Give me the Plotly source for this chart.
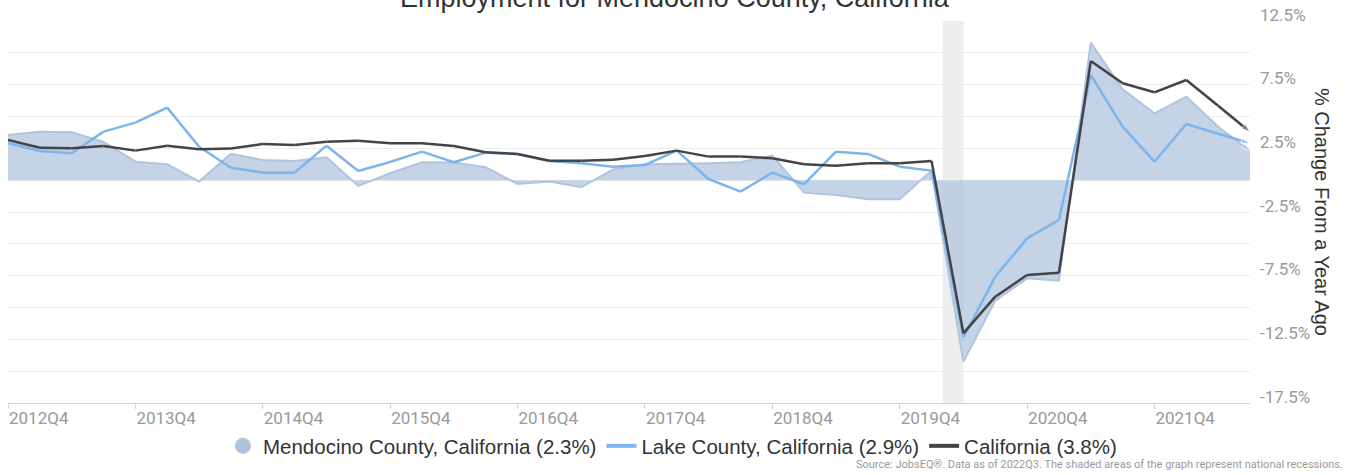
import plotly.graph_objects as go

quarters = [
    "2012Q4", "2013Q1", "2013Q2", "2013Q3", "2013Q4", "2014Q1", "2014Q2", "2014Q3",
    "2014Q4", "2015Q1", "2015Q2", "2015Q3", "2015Q4", "2016Q1", "2016Q2", "2016Q3",
    "2016Q4", "2017Q1", "2017Q2", "2017Q3", "2017Q4", "2018Q1", "2018Q2", "2018Q3",
    "2018Q4", "2019Q1", "2019Q2", "2019Q3", "2019Q4", "2020Q1", "2020Q2", "2020Q3",
    "2020Q4", "2021Q1", "2021Q2", "2021Q3", "2021Q4", "2022Q1", "2022Q2", "2022Q3",
]

mendocino = [
    3.55, 3.8, 3.76, 3.0, 1.45, 1.25, -0.1, 2.06, 1.59, 1.51,
    1.8, -0.45, 0.54, 1.4, 1.38, 1.01, -0.3, -0.1, -0.56, 0.85,
    1.25, 1.27, 1.33, 1.4, 1.93, -0.98, -1.16, -1.5, -1.5, 0.75,
    -14.26, -9.46, -7.71, -7.89, 10.8, 7.14, 5.25, 6.56, 4.2, 2.3,
]

lake = [
    2.9, 2.29, 2.11, 3.81, 4.52, 5.7, 2.63, 0.98, 0.59, 0.59,
    2.71, 0.72, 1.43, 2.24, 1.41, 2.16, 2.06, 1.51, 1.33, 1.06,
    1.19, 2.32, 0.09, -0.9, 0.59, -0.32, 2.24, 2.06, 1.06, 0.75,
    -12.34, -7.58, -4.57, -3.13, 8.26, 4.2, 1.45, 4.41, 3.65, 2.9,
]

california = [
    3.16, 2.55, 2.5, 2.69, 2.32, 2.71, 2.43, 2.48, 2.84, 2.76,
    3.02, 3.1, 2.9, 2.9, 2.69, 2.19, 2.06, 1.53, 1.53, 1.61,
    1.9, 2.32, 1.85, 1.85, 1.72, 1.25, 1.14, 1.33, 1.33, 1.51,
    -12.03, -9.15, -7.45, -7.27, 9.36, 7.61, 6.9, 7.87, 5.84, 3.8,
]

series_names = [
    "Mendocino County, California (2.3%)",
    "Lake County, California (2.9%)",
    "California (3.8%)",
]

x_tick_labels = ["2012Q4", "2013Q4", "2014Q4", "2015Q4", "2016Q4",
                 "2017Q4", "2018Q4", "2019Q4", "2020Q4", "2021Q4"]

y_grid_vals = [12.5, 10, 7.5, 5, 2.5, 0, -2.5, -5, -7.5, -10, -12.5, -15, -17.5]
y_label_vals = [12.5, 7.5, 2.5, -2.5, -7.5, -12.5, -17.5]
y_label_text = ["12.5%", "7.5%", "2.5%", "-2.5%", "-7.5%", "-12.5%", "-17.5%"]

recession_start = 29.35
recession_end = 30.0

C_MEN = "#b0c4de"
C_LAKE = "#7cb5ec"
C_CA = "#434348"

n = len(quarters)
end_sizes = [0] * (n - 1) + [9]

fig = go.Figure()

fig.add_trace(go.Scatter(
    x=quarters, y=mendocino, mode="lines+markers", fill="tozeroy",
    fillcolor="rgba(176,196,222,0.75)",
    line=dict(color=C_MEN, width=2),
    marker=dict(symbol="arrow", angleref="previous", size=end_sizes, color=C_MEN),
    showlegend=False, name=series_names[0], hoverinfo="skip",
))
fig.add_trace(go.Scatter(
    x=quarters, y=lake, mode="lines+markers",
    line=dict(color=C_LAKE, width=2.5),
    marker=dict(symbol="arrow", angleref="previous", size=end_sizes, color=C_LAKE),
    showlegend=False, name=series_names[1],
))
fig.add_trace(go.Scatter(
    x=quarters, y=california, mode="lines+markers",
    line=dict(color=C_CA, width=2.5),
    marker=dict(symbol="arrow", angleref="previous", size=end_sizes, color=C_CA),
    showlegend=False, name=series_names[2],
))

# legend entries
fig.add_trace(go.Scatter(x=[None], y=[None], mode="markers",
                         marker=dict(symbol="circle", size=18, color=C_MEN),
                         name=series_names[0]))
fig.add_trace(go.Scatter(x=[None], y=[None], mode="lines",
                         line=dict(color=C_LAKE, width=4), name=series_names[1]))
fig.add_trace(go.Scatter(x=[None], y=[None], mode="lines",
                         line=dict(color=C_CA, width=4), name=series_names[2]))

fig.add_shape(type="rect", xref="x", yref="paper",
              x0=recession_start, x1=recession_end, y0=0, y1=1,
              fillcolor="#eeeeee", line=dict(width=0), layer="below")

annotations = [
    dict(text="Employment for Mendocino County, California",
         xref="paper", yref="paper", x=0.537, y=1.059,
         xanchor="center", yanchor="middle", showarrow=False,
         font=dict(family="Liberation Sans, Arial", size=27, color="#333333")),
    dict(text="% Change From a Year Ago",
         xref="paper", yref="paper", x=1.058, y=0.5,
         xanchor="center", yanchor="middle", textangle=90, showarrow=False,
         font=dict(family="Liberation Sans, Arial", size=20, color="#333333")),
    dict(text="Source: JobsEQ®. Data as of 2022Q3. The shaded areas of the graph represent national recessions.",
         xref="paper", yref="paper", x=1.0765, y=-0.162,
         xanchor="right", yanchor="middle", showarrow=False,
         font=dict(family="Roboto", size=11, color="#999999")),
]
for v, t in zip(y_label_vals, y_label_text):
    annotations.append(dict(
        text=t, xref="paper", yref="y", x=1.0064, y=v,
        xanchor="left", yanchor="middle", yshift=6.5, showarrow=False,
        font=dict(family="Roboto", size=17, color="#999999"),
    ))

fig.update_layout(
    width=1355, height=475,
    margin=dict(l=8, r=105, t=21, b=72, autoexpand=False),
    paper_bgcolor="white", plot_bgcolor="white",
    font=dict(family="Roboto, Arial, sans-serif", color="#333333"),
    xaxis=dict(
        type="category", range=[0, n - 1], automargin=False,
        tickvals=x_tick_labels, ticktext=x_tick_labels,
        showgrid=False, zeroline=False,
        showline=True, linecolor="#ccd6eb", linewidth=1,
        ticks="outside", ticklen=5, tickcolor="#ccd6eb",
        ticklabelposition="outside right",
        tickfont=dict(family="Roboto", size=17, color="#999999"),
    ),
    yaxis=dict(
        side="right", range=[-17.5, 12.5], automargin=False,
        tickvals=y_grid_vals, showticklabels=False,
        showgrid=True, gridcolor="#ececec", gridwidth=1,
        zeroline=False, showline=False, ticks="",
    ),
    legend=dict(
        orientation="h", x=0.535, xanchor="center", xref="paper",
        y=-0.1126, yanchor="middle",
        font=dict(family="Liberation Sans, Arial", size=20.5, color="#333333"),
        itemwidth=30, tracegroupgap=0,
    ),
    annotations=annotations,
)

fig.write_html(
    "out.html",
    config={"displayModeBar": False},
    post_script="document.body.style.margin='0';document.body.style.overflow='hidden';",
)
